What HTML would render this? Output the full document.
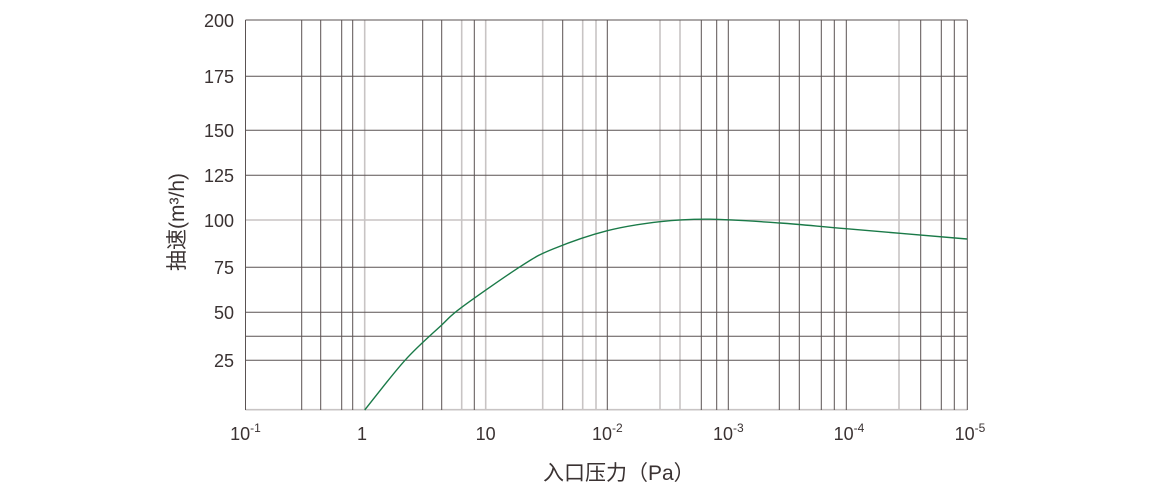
<!DOCTYPE html>
<html><head><meta charset="utf-8"><style>
html,body{margin:0;padding:0;background:#fff;width:1160px;height:500px;overflow:hidden}
text{font-family:"Liberation Sans","Noto Sans CJK SC",sans-serif;fill:#3a3232}
</style></head><body>
<svg width="1160" height="500" xmlns="http://www.w3.org/2000/svg">
<g stroke="#c8c4c4" stroke-width="1.6">
<line x1="364.7" y1="20" x2="364.7" y2="410"/>
<line x1="461.7" y1="20" x2="461.7" y2="410"/>
<line x1="485.7" y1="20" x2="485.7" y2="410"/>
<line x1="542.7" y1="20" x2="542.7" y2="410"/>
<line x1="582.7" y1="20" x2="582.7" y2="410"/>
<line x1="596" y1="20" x2="596" y2="410"/>
<line x1="660" y1="20" x2="660" y2="410"/>
<line x1="680" y1="20" x2="680" y2="410"/>
<line x1="899" y1="20" x2="899" y2="410"/>
<line x1="245.5" y1="220" x2="967.3" y2="220"/>
<line x1="245.5" y1="409.7" x2="967.3" y2="409.7"/>
</g>
<g stroke="#5a5252" stroke-width="1">
<line x1="245.5" y1="20" x2="245.5" y2="410"/>
<line x1="301.7" y1="20" x2="301.7" y2="410"/>
<line x1="320.7" y1="20" x2="320.7" y2="410"/>
<line x1="341.7" y1="20" x2="341.7" y2="410"/>
<line x1="352.7" y1="20" x2="352.7" y2="410"/>
<line x1="422.7" y1="20" x2="422.7" y2="410"/>
<line x1="441.7" y1="20" x2="441.7" y2="410"/>
<line x1="474.3" y1="20" x2="474.3" y2="410"/>
<line x1="562.7" y1="20" x2="562.7" y2="410"/>
<line x1="607.3" y1="20" x2="607.3" y2="410"/>
<line x1="701.3" y1="20" x2="701.3" y2="410"/>
<line x1="716.7" y1="20" x2="716.7" y2="410"/>
<line x1="728.3" y1="20" x2="728.3" y2="410"/>
<line x1="779.3" y1="20" x2="779.3" y2="410"/>
<line x1="799.3" y1="20" x2="799.3" y2="410"/>
<line x1="821.3" y1="20" x2="821.3" y2="410"/>
<line x1="834.3" y1="20" x2="834.3" y2="410"/>
<line x1="846.3" y1="20" x2="846.3" y2="410"/>
<line x1="920.7" y1="20" x2="920.7" y2="410"/>
<line x1="941.3" y1="20" x2="941.3" y2="410"/>
<line x1="954.3" y1="20" x2="954.3" y2="410"/>
<line x1="967.3" y1="20" x2="967.3" y2="410"/>
<line x1="245.5" y1="20" x2="967.3" y2="20"/>
<line x1="245.5" y1="76.3" x2="967.3" y2="76.3"/>
<line x1="245.5" y1="130.3" x2="967.3" y2="130.3"/>
<line x1="245.5" y1="175.3" x2="967.3" y2="175.3"/>
<line x1="245.5" y1="267.3" x2="967.3" y2="267.3"/>
<line x1="245.5" y1="312.3" x2="967.3" y2="312.3"/>
<line x1="245.5" y1="336.3" x2="967.3" y2="336.3"/>
<line x1="245.5" y1="360.3" x2="967.3" y2="360.3"/>
</g>
<path id="curve" d="M364.7,410 L405,360.3 L441.7,325 L461.7,307.3 L521.7,265.7 L553,249 L607.3,230.7 L660,221.7 L710,219.2 L780,223 L846,228.7 L967,239" fill="none" stroke="#1a7a48" stroke-width="1.4"/>
<g font-size="18" text-anchor="end">
<text x="234" y="27">200</text>
<text x="234" y="83">175</text>
<text x="234" y="137">150</text>
<text x="234" y="182">125</text>
<text x="234" y="227">100</text>
<text x="234" y="274">75</text>
<text x="234" y="319">50</text>
<text x="234" y="367">25</text>
</g>
<g font-size="18" text-anchor="middle">
<text x="245.5" y="440">10<tspan font-size="12" dy="-8">-1</tspan></text>
<text x="362" y="440">1</text>
<text x="485.7" y="440">10</text>
<text x="607.3" y="440">10<tspan font-size="12" dy="-8">-2</tspan></text>
<text x="728.3" y="440">10<tspan font-size="12" dy="-8">-3</tspan></text>
<text x="849" y="440">10<tspan font-size="12" dy="-8">-4</tspan></text>
<text x="970" y="440">10<tspan font-size="12" dy="-8">-5</tspan></text>
</g>
<text x="543" y="480" font-size="21">入口压力（Pa）</text>
<text transform="translate(184,222) rotate(-90)" font-size="21" text-anchor="middle">抽速(m³/h)</text>
</svg>
<script>
(function(){
var p=[[364.7,410],[405,360.3],[441.7,325],[461.7,307.3],[521.7,265.7],[553,249],[607.3,230.7],[660,221.7],[710,219.2],[780,223],[846,228.7],[967,239]];
var d="M"+p[0][0]+","+p[0][1];
for(var i=0;i<p.length-1;i++){
var p0=p[i>0?i-1:0],p1=p[i],p2=p[i+1],p3=p[i+2<p.length?i+2:i+1];
var c1x=p1[0]+(p2[0]-p0[0])/6,c1y=p1[1]+(p2[1]-p0[1])/6;
var c2x=p2[0]-(p3[0]-p1[0])/6,c2y=p2[1]-(p3[1]-p1[1])/6;
d+=" C"+c1x.toFixed(2)+","+c1y.toFixed(2)+" "+c2x.toFixed(2)+","+c2y.toFixed(2)+" "+p2[0]+","+p2[1];
}
document.getElementById("curve").setAttribute("d",d);
})();
</script>
</body></html>
